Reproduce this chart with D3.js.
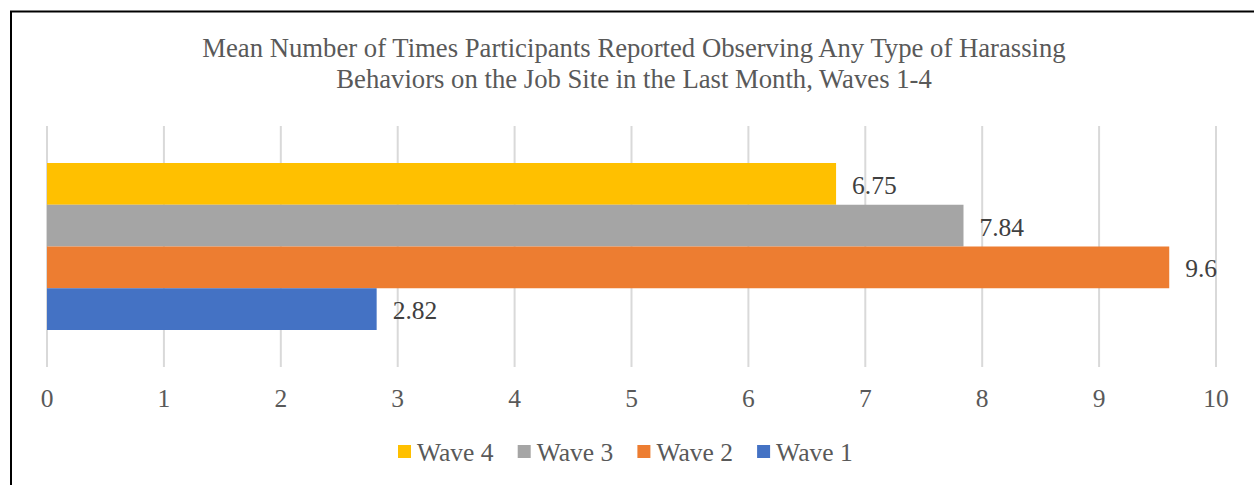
<!DOCTYPE html>
<html><head><meta charset="utf-8">
<script src="https://cdn.jsdelivr.net/npm/d3@7"></script>
<style>body{margin:0;background:#fff}svg{display:block}text{font-family:"Liberation Serif","Times New Roman",serif}</style>
</head><body><svg id="c" width="1254" height="485"></svg>
<script>
const categories = ["Wave 4", "Wave 3", "Wave 2", "Wave 1"];
const values = [6.75, 7.84, 9.6, 2.82];
const colors = ["#FFC000", "#A5A5A5", "#ED7D31", "#4472C4"];
const ticks = [0,1,2,3,4,5,6,7,8,9,10];
const titleLines = ["Mean Number of Times Participants Reported Observing Any Type of Harassing", "Behaviors on the Job Site in the Last Month, Waves 1-4"];

const svg = d3.select("#c");
svg.append("rect").attr("width",1254).attr("height",485).attr("fill","#fff");
svg.append("path").attr("d","M11,485V11.5H1254").attr("fill","none").attr("stroke","#000").attr("stroke-width",2);

const x = d3.scaleLinear().domain([0,10]).range([47,1216]);
const yOuter = [126,367];
const y = d3.scaleBand().domain(categories).range([163,330]);

const g = svg.append("g");
g.selectAll("line.grid").data(ticks).join("line").attr("class","grid")
  .attr("x1",d=>x(d)).attr("x2",d=>x(d)).attr("y1",yOuter[0]).attr("y2",yOuter[1])
  .attr("stroke","#D9D9D9").attr("stroke-width",2);

g.selectAll("rect.bar").data(categories).join("rect").attr("class","bar")
  .attr("x",x(0)).attr("y",d=>y(d)).attr("width",(d,i)=>x(values[i])-x(0)).attr("height",y.bandwidth())
  .attr("fill",(d,i)=>colors[i]);

g.selectAll("text.lbl").data(categories).join("text").attr("class","lbl")
  .attr("x",(d,i)=>x(values[i])+16).attr("y",d=>y(d)+y.bandwidth()/2+1).attr("dy","0.35em")
  .attr("font-size",25.5).attr("fill","#404040").text((d,i)=>values[i]);

g.selectAll("text.tick").data(ticks).join("text").attr("class","tick")
  .attr("x",d=>x(d)).attr("y",398).attr("dy","0.35em").attr("text-anchor","middle")
  .attr("font-size",25.5).attr("fill","#595959").text(d=>d);

svg.selectAll("text.title").data(titleLines).join("text").attr("class","title")
  .attr("x",634).attr("y",(d,i)=>57+i*30.5).attr("text-anchor","middle")
  .attr("font-size",26.7).attr("fill","#595959").text(d=>d);

const leg = svg.append("g");
const lg = leg.selectAll("g").data(categories).join("g").attr("transform",(d,i)=>`translate(${398+i*119.7},0)`);
lg.append("rect").attr("x",0).attr("y",445).attr("width",13).attr("height",13).attr("fill",(d,i)=>colors[i]);
lg.append("text").attr("x",19).attr("y",452).attr("dy","0.35em").attr("font-size",25.5).attr("fill","#595959").text(d=>d);
</script></body></html>
